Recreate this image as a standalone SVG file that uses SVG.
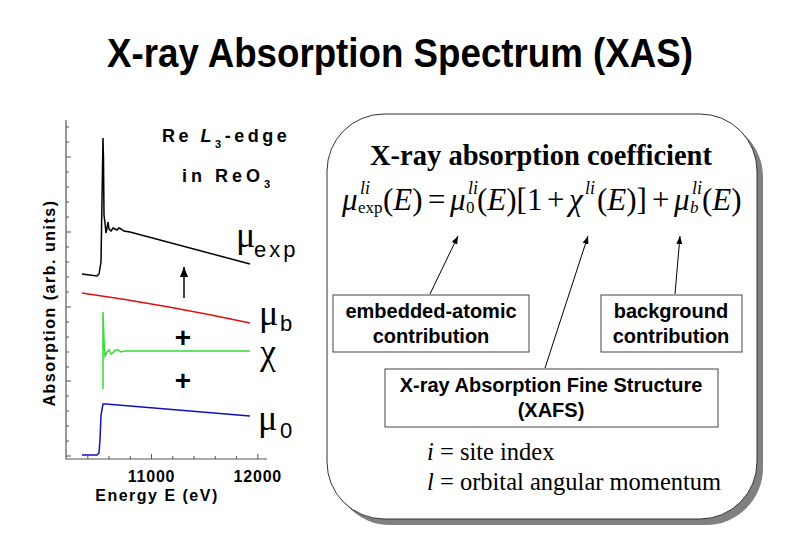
<svg xmlns="http://www.w3.org/2000/svg" width="800" height="553" viewBox="0 0 800 553">
<style>
.sans{font-family:"Liberation Sans",Arial,sans-serif}
.serif{font-family:"Liberation Serif","Times New Roman",serif}
.bold{font-weight:bold}
.boxtxt{font-family:"Liberation Sans",Arial,sans-serif;font-weight:bold;font-size:20px;text-anchor:middle;fill:#000}
.lbl{fill:#fff;stroke:#444;stroke-width:1}
.conn{stroke:#000;stroke-width:1;fill:none}
.tick{stroke:#555;stroke-width:1}
.axis{stroke:#555;stroke-width:1.2;fill:none}
.eq{font-family:"Liberation Serif","Times New Roman",serif;font-size:31px;fill:#000}
.sup{font-size:18px}
.sub{font-size:17px}
.plotlbl{font-family:"Liberation Sans",Arial,sans-serif;font-weight:bold;font-size:16px;letter-spacing:1.5px;fill:#000}
.ticklbl{font-family:"Liberation Sans",Arial,sans-serif;font-weight:bold;font-size:16px;letter-spacing:0.8px;fill:#000}
.mu{font-family:"Liberation Serif","Times New Roman",serif;font-size:36px;fill:#000}
.musub{font-family:"Liberation Sans",Arial,sans-serif;font-size:22px;fill:#000}
</style>
<defs>
<marker id="ah" markerWidth="8" markerHeight="6" refX="8" refY="3" orient="auto" markerUnits="userSpaceOnUse"><path d="M0,0 L8,3 L0,6 z" fill="#000"/></marker>
<marker id="ahBig" markerWidth="10" markerHeight="8" refX="10" refY="4" orient="auto" markerUnits="userSpaceOnUse"><path d="M0,0 L10,4 L0,8 z" fill="#000"/></marker>
</defs>
<rect width="800" height="553" fill="#fff"/>

<text id="title" class="sans bold" x="400" y="67" font-size="41" text-anchor="middle" textLength="586" lengthAdjust="spacingAndGlyphs">X-ray Absorption Spectrum (XAS)</text>

<!-- Plot -->
<g id="plot">
  <path class="axis" d="M66,120 L66,459 L267,459"/>
  <g class="tick">
    <path d="M66,127h3M66,142h3M66,157h5M66,172h3M66,187h3M66,202h3M66,217h3M66,232h5M66,247h3M66,262h3M66,277h3M66,292h3M66,307h5M66,322h3M66,337h3M66,352h3M66,367h3M66,381h5M66,396h3M66,411h3M66,426h3M66,441h3M66,456h5"/>
    <path d="M87.8,459v-3M109,459v-3M130.3,459v-3M151.5,459v-5M172.8,459v-3M194,459v-3M215.3,459v-3M236.5,459v-3M257.8,459v-5"/>
  </g>
  <text class="ticklbl" x="151.5" y="482" text-anchor="middle">11000</text>
  <text class="ticklbl" x="257.8" y="482" text-anchor="middle">12000</text>
  <text class="plotlbl" x="157" y="501" text-anchor="middle" letter-spacing="1">Energy E (eV)</text>
  <text class="plotlbl" transform="translate(55,303) rotate(-90)" text-anchor="middle">Absorption (arb. units)</text>

  <path d="M82,274 L97,276 L99,274 L101,262 L102,200 L103,138 L103.5,160 L104,215 L105,223 L106,233 L107,228 L108,222 L109,229 L111,231 L113,228 L115,229 L117,230 L119,228 L121,229 L124,231 L130,232 L250,264" fill="none" stroke="#000" stroke-width="1.5"/>
  <path d="M82,293 Q166,305 250,323" fill="none" stroke="#e01010" stroke-width="1.5"/>
  <path d="M103,389 L103,312 L104,340 L105,356 L107,352 L109,350 L111,354 L113,353 L115,350 L118,350 L121,352 L124,351 L250,351" fill="none" stroke="#33dd33" stroke-width="1.5"/>
  <path d="M82,455 L97,455 L99,453 L100,440 L101,415 L103,404 L106,404 L250,416" fill="none" stroke="#1010c0" stroke-width="1.5"/>

  <text class="sans bold" x="183" y="347" font-size="28" text-anchor="middle">+</text>
  <text class="sans bold" x="183" y="390" font-size="28" text-anchor="middle">+</text>

  <text class="sans bold" x="162" y="142" font-size="18" letter-spacing="3.5">Re <tspan font-style="italic">L</tspan><tspan font-size="11" dy="6">3</tspan><tspan dy="-6">-edge</tspan></text>
  <text class="sans bold" x="182" y="182" font-size="18" letter-spacing="4">in ReO<tspan font-size="11" dy="6">3</tspan></text>

  <text class="mu" x="236" y="247">μ</text><text class="musub" x="254" y="257" letter-spacing="3">exp</text>
  <text class="mu" x="259" y="325" font-size="33">μ</text><text class="musub" x="280" y="331">b</text>
  <text class="mu" x="260" y="364" font-size="30">χ</text>
  <text class="mu" x="258" y="430">μ</text><text class="musub" x="280" y="438">0</text>
</g>

<!-- Right panel -->
<g id="panel">
  <rect x="333" y="120" width="430" height="405" rx="57" ry="57" fill="#808080"/>
  <rect x="327" y="114" width="430" height="405" rx="57" ry="57" fill="#fff" stroke="#333" stroke-width="1"/>
  <text class="serif bold" x="541" y="165" font-size="28.5" text-anchor="middle">X-ray absorption coefficient</text>
</g>

<g id="formula" class="eq">
  <text x="342" y="210" font-style="italic">μ</text>
  <text class="sup" x="360" y="194" font-style="italic">li</text>
  <text class="sub" x="358" y="213">exp</text>
  <text x="383" y="210">(<tspan font-style="italic">E</tspan>)</text>
  <text x="428" y="210">=</text>
  <text x="450" y="210" font-style="italic">μ</text>
  <text class="sup" x="468" y="194" font-style="italic">li</text>
  <text class="sub" x="466" y="213">0</text>
  <text x="477" y="210">(<tspan font-style="italic">E</tspan>)[1</text>
  <text x="547" y="210">+</text>
  <text x="569" y="210" font-style="italic">χ</text>
  <text class="sup" x="585" y="194" font-style="italic">li</text>
  <text x="597" y="210">(<tspan font-style="italic">E</tspan>)]</text>
  <text x="652" y="210">+</text>
  <text x="674" y="210" font-style="italic">μ</text>
  <text class="sup" x="692" y="194" font-style="italic">li</text>
  <text class="sub" x="690" y="213" font-style="italic">b</text>
  <text x="702" y="210">(<tspan font-style="italic">E</tspan>)</text>
</g>

<g id="node-embedded">
  <rect class="lbl" x="333" y="295" width="196" height="57"/>
  <text class="boxtxt" x="431" y="318">embedded-atomic</text>
  <text class="boxtxt" x="431" y="343">contribution</text>
</g>
<g id="node-background">
  <rect class="lbl" x="601" y="295" width="141" height="57"/>
  <text class="boxtxt" x="671" y="318">background</text>
  <text class="boxtxt" x="671" y="343">contribution</text>
</g>
<g id="node-xafs">
  <rect class="lbl" x="385" y="369" width="333" height="58"/>
  <text class="boxtxt" x="551" y="392">X-ray Absorption Fine Structure</text>
  <text class="boxtxt" x="551" y="417">(XAFS)</text>
</g>

<g id="notes" class="serif" font-size="24.5">
  <text x="427" y="460"><tspan font-style="italic">i</tspan> = site index</text>
  <text x="427" y="490"><tspan font-style="italic">l</tspan> = orbital angular momentum</text>
</g>

<g id="connectors">
  <line class="conn" x1="430" y1="294" x2="458" y2="236" marker-end="url(#ah)"/>
  <line class="conn" x1="545" y1="368" x2="588" y2="236" marker-end="url(#ah)"/>
  <line class="conn" x1="675" y1="294" x2="680" y2="236" marker-end="url(#ah)"/>
  <line x1="184" y1="298" x2="184" y2="267" stroke="#000" stroke-width="1.5" marker-end="url(#ahBig)"/>
</g>
</svg>
